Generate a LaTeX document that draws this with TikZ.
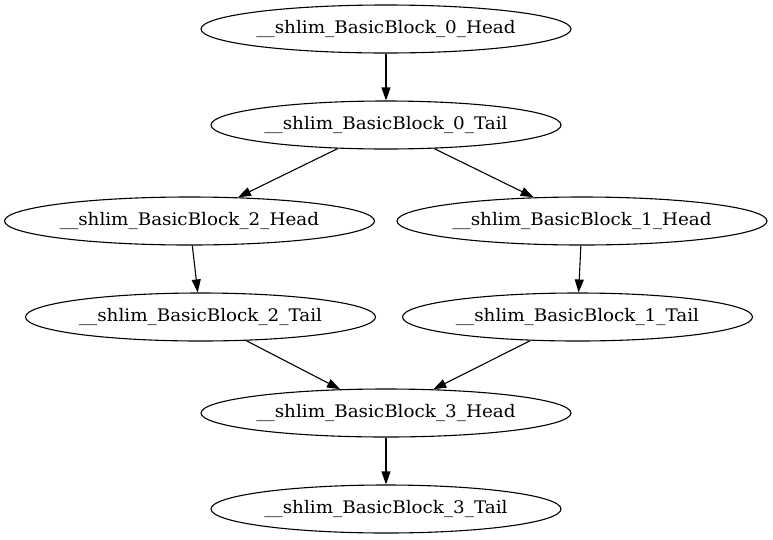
\documentclass[tikz,border=0pt]{standalone}
\usepackage{fontspec}
\setmainfont[FakeStretch=1.06]{DejaVu Serif}
\usetikzlibrary{shapes.geometric,arrows.meta}
\begin{document}
\begin{tikzpicture}[x=1pt,y=-1pt,
  block/.style={ellipse,draw,line width=1.1pt,inner sep=0pt,minimum height=48pt,
    font=\fontsize{17.3}{20}\selectfont},
  headblk/.style={block,minimum width=370pt},
  tailblk/.style={block,minimum width=350pt},
  flow/.style={line width=1.1pt,-{Triangle[length=13pt,width=9pt]}}]
\useasboundingbox (0,0) rectangle (773,539);
\node[headblk] (h0) at (386,29)    {\_\_shlim\_BasicBlock\_0\_Head};
\node[tailblk] (t0) at (386,125)   {\_\_shlim\_BasicBlock\_0\_Tail};
\node[headblk] (h2) at (189.5,221) {\_\_shlim\_BasicBlock\_2\_Head};
\node[headblk] (h1) at (582,221)   {\_\_shlim\_BasicBlock\_1\_Head};
\node[tailblk] (t2) at (200.5,317) {\_\_shlim\_BasicBlock\_2\_Tail};
\node[tailblk] (t1) at (577.5,317) {\_\_shlim\_BasicBlock\_1\_Tail};
\node[headblk] (h3) at (386,413)   {\_\_shlim\_BasicBlock\_3\_Head};
\node[tailblk] (t3) at (386,509)   {\_\_shlim\_BasicBlock\_3\_Tail};
\draw[flow] (h0) -- (t0);
\draw[flow] (t0) -- (h2);
\draw[flow] (t0) -- (h1);
\draw[flow] (h2) -- (t2);
\draw[flow] (h1) -- (t1);
\draw[flow] (t2) -- (h3);
\draw[flow] (t1) -- (h3);
\draw[flow] (h3) -- (t3);
\end{tikzpicture}
\end{document}
